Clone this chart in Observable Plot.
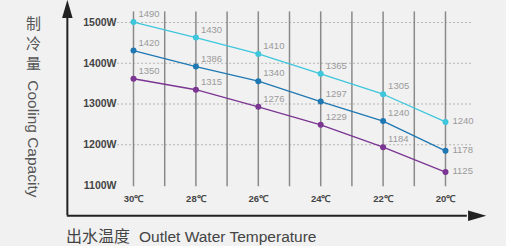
<!DOCTYPE html>
<html>
<head>
<meta charset="utf-8">
<script src="https://cdn.jsdelivr.net/npm/d3@7"></script>
<script src="https://cdn.jsdelivr.net/npm/@observablehq/plot@0.6"></script>
<style>
  html, body { margin: 0; padding: 0; background: #f1f1f1; }
  #wrap { position: relative; width: 506px; height: 246px; overflow: hidden; }
  #ytitle {
    position: absolute; left: 23px; top: 16px;
    writing-mode: vertical-rl;
    font-family: "Liberation Sans", Arial, "Noto Sans CJK SC", sans-serif;
    font-size: 15.5px; color: #555; white-space: nowrap;
  }
  #ytitle .cjk { font-family: "Noto Sans CJK SC", sans-serif; font-size: 15px; letter-spacing: 5px; }
  #xtitle {
    position: absolute; left: 66px; top: 227px;
    font-family: "Liberation Sans", Arial, sans-serif;
    font-size: 15.5px; line-height: 16px; color: #444; white-space: nowrap;
  }
  #xtitle .cjk { font-family: "Noto Sans CJK SC", sans-serif; font-size: 16px; margin-right: 9px; }
</style>
</head>
<body>
<div id="wrap">
  <div id="chart"></div>
  <div id="ytitle"><span class="cjk">制冷量</span> Cooling Capacity</div>
  <div id="xtitle"><span class="cjk">出水温度</span>Outlet Water Temperature</div>
</div>
<script>
// Outlet water temperatures (°C) with a data point
const temps = [30, 28, 26, 24, 22, 20];
// all gridline temperatures
const gridTemps = [30, 29, 28, 27, 26, 25, 24, 23, 22, 21, 20];
// y tick values (W)
const yTicks = [1100, 1200, 1300, 1400, 1500];
const yGrid = [1200, 1300, 1400, 1500];

// plotted positions of each series
const topVals    = [1501, 1463, 1423, 1374, 1324, 1256];
const midVals    = [1431, 1392, 1356, 1306, 1258, 1185];
const bottomVals = [1362, 1335, 1293, 1249, 1194, 1133];

// printed labels
const topLabels    = ["1490", "1430", "1410", "1365", "1305", "1240"];
const midLabels    = ["1420", "1386", "1340", "1297", "1240", "1178"];
const bottomLabels = ["1350", "1315", "1276", "1229", "1184", "1125"];

const seriesNames = ["S1", "S2", "S3"];
const seriesColors = ["#3ec6dc", "#1f78b2", "#7b3592"];

const rows = [];
[topVals, midVals, bottomVals].forEach((vals, si) => {
  const labs = [topLabels, midLabels, bottomLabels][si];
  vals.forEach((v, i) => rows.push({s: seriesNames[si], t: temps[i], v, label: labs[i]}));
});

// axis frame (in data units)
const axisLeftX = 32.12, axisBottomY = 1026, axisTopY = 1532, axisRightX = 19.0;

const rightTri = {
  draw(ctx, size) {
    const r = Math.sqrt(size) * 0.9;
    ctx.moveTo(r, 0);
    ctx.lineTo(-r * 0.9, -r * 0.55);
    ctx.lineTo(-r * 0.9, r * 0.55);
    ctx.closePath();
  }
};
const upTri = {
  draw(ctx, size) {
    const r = Math.sqrt(size) * 0.9;
    ctx.moveTo(0, -r);
    ctx.lineTo(-r * 0.55, r * 0.9);
    ctx.lineTo(r * 0.55, r * 0.9);
    ctx.closePath();
  }
};

const plot = Plot.plot({
  width: 506,
  height: 246,
  marginLeft: 133,
  marginRight: 61,
  marginTop: 22,
  marginBottom: 61,
  style: {background: "transparent", fontFamily: "'Liberation Sans', Arial, sans-serif", color: "#333", overflow: "visible"},
  x: {domain: [30, 20], axis: null},
  y: {domain: [1100, 1500], axis: null},
  color: {domain: seriesNames, range: seriesColors},
  marks: [
    // dashed horizontal gridlines
    Plot.ruleY(yGrid, {x1: 30.51, x2: 19.13, stroke: "#b5b5b5", strokeWidth: 1, strokeDasharray: "2,2"}),
    // vertical gridlines
    Plot.ruleX(gridTemps, {y1: 1097, y2: 1526, stroke: "#8a8a8a", strokeWidth: 1.5}),
    // axes
    Plot.ruleX([axisLeftX], {y1: axisBottomY, y2: axisTopY - 8, stroke: "#222", strokeWidth: 2}),
    Plot.ruleY([axisBottomY], {x1: axisLeftX, x2: axisRightX + 0.3, stroke: "#222", strokeWidth: 2}),
    Plot.dot([{x: axisLeftX, y: axisTopY}], {x: "x", y: "y", symbol: upTri, r: 6, fill: "#222", stroke: null}),
    Plot.dot([{x: axisRightX, y: axisBottomY}], {x: "x", y: "y", symbol: rightTri, r: 6, fill: "#222", stroke: null}),
    // tick labels
    Plot.axisY({ticks: yTicks, tickFormat: d => d + "W", tickSize: 0, tickPadding: 17, fontSize: 10.5, fontWeight: "bold", fill: "#444", label: null}),
    Plot.axisX({ticks: temps, tickFormat: d => d + "℃", tickSize: 0, tickPadding: 10, fontSize: 9.5, fontWeight: "bold", fill: "#444", label: null}),
    // series
    Plot.line(rows, {x: "t", y: "v", z: "s", stroke: "s", strokeWidth: 1.3}),
    Plot.dot(rows, {x: "t", y: "v", fill: "s", r: 3}),
    Plot.text(rows.filter(d => d.t !== 20), {x: "t", y: "v", text: "label", dx: 5, dy: -8, textAnchor: "start", fill: "#9a9a9a", fontSize: 9.5}),
    Plot.text(rows.filter(d => d.t === 20), {x: "t", y: "v", text: "label", dx: 7, dy: -1, textAnchor: "start", fill: "#9a9a9a", fontSize: 9.5})
  ]
});
document.getElementById("chart").appendChild(plot);
</script>
</body>
</html>
